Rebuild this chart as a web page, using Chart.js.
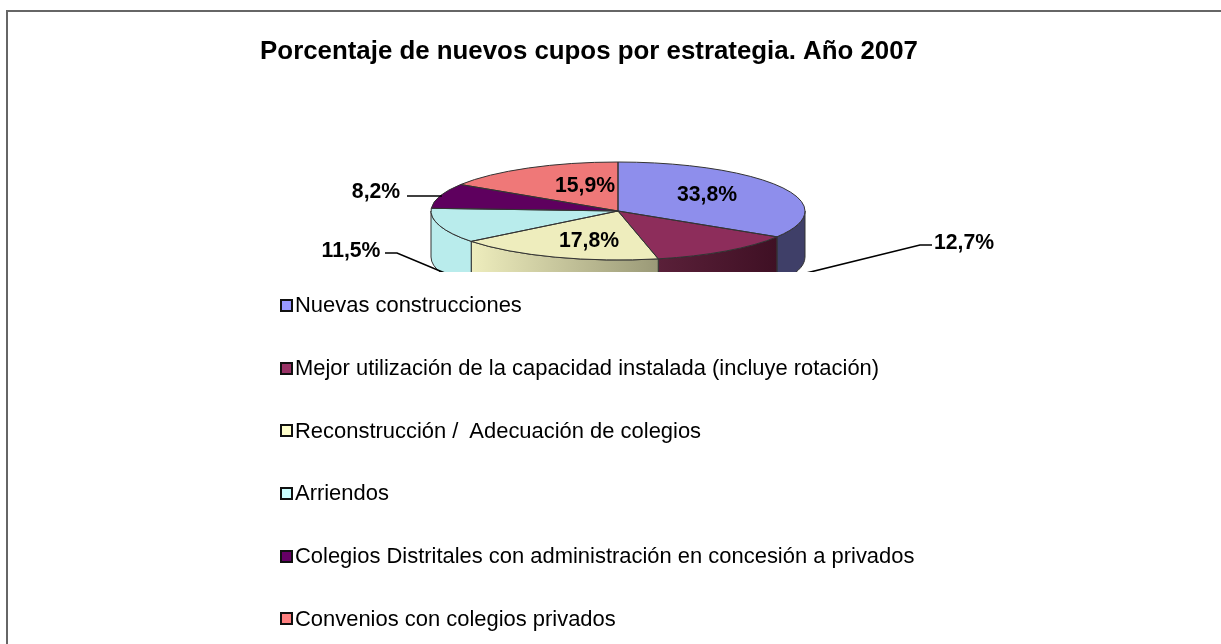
<!DOCTYPE html>
<html lang="es">
<head>
<meta charset="utf-8">
<title>Porcentaje de nuevos cupos por estrategia</title>
<script src="https://cdn.jsdelivr.net/npm/chart.js@4/dist/chart.umd.js"></script>
<style>
    html, body { margin: 0; padding: 0; background: #fff; overflow: hidden; }
    #frame { position: absolute; left: 6px; top: 10px; right: 0; bottom: 0; border-left: 2px solid #666; border-top: 2px solid #666; }
    #chart { position: absolute; left: 0; top: 0; }
    #legend { position: absolute; left: 280px; top: 274px; font: 21.95px "Liberation Sans", Arial, sans-serif; color: #000; }
    .row { height: 62.7px; white-space: pre; display: flex; align-items: center; }
    .swatch { width: 9px; height: 9px; border: 2px solid #111; margin-right: 2px; display: inline-block; }
</style>
</head>
<body>
<div id="frame"></div>
<canvas id="chart" width="1178" height="644" style="width:1178px;height:644px"></canvas>
<div id="legend"></div>
<script>
// Datos
const categories = [
    'Nuevas construcciones',
    'Mejor utilización de la capacidad instalada (incluye rotación)',
    'Reconstrucción /  Adecuación de colegios',
    'Arriendos',
    'Colegios Distritales con administración en concesión a privados',
    'Convenios con colegios privados'
];
const values = [33.8, 12.7, 17.8, 11.5, 8.2, 15.9];
const topColors = ['#8e8eec', '#8d2d5b', '#eeedbd', '#b9ecec', '#5e005e', '#ef7878'];
const legendColors = ['#9999ff', '#993366', '#ffffcc', '#ccffff', '#660066', '#ff8080'];
const wallLeft = ['#3f3f68', '#5a2039', '#eeedbd', '#b9ecec', '#5e005e', '#ef7878'];
const wallRight = ['#3f3f68', '#3f1024', '#9a9977', '#b9ecec', '#5e005e', '#ef7878'];

// Geometría de la "torta" aplastada
const pieCenterX = 618;
const pieCenterY = 211;
const pieRadius = 187;
const squash = 49 / 187;
const pieDepth = 46;
const legendTop = 272;

// Etiquetas y líneas guía, en el orden de values
const labelSpots = [[707, 195], [964, 243], [589, 241], [351, 251], [376, 192], [585, 186]];
const leaders = {
    1: [[932, 245], [920, 245], [790, 277]],
    3: [[385, 253], [397, 253], [452, 276]],
    4: [[407, 196], [442, 196]]
};

const percent = (v) => v.toFixed(1).replace('.', ',') + '%';

// Traza el borde de la elipse entre dos ángulos
const rimPath = (ctx, a1, a2, dy, back) => {
    ctx.ellipse(pieCenterX, pieCenterY + dy, pieRadius, pieRadius * squash, 0, a1, a2, back);
};

const drawWalls = (ctx, arcs) => {
    arcs.forEach((arc, i) => {
        const a1 = Math.max(arc.startAngle, 0);
        const a2 = Math.min(arc.endAngle, Math.PI);
        if (a2 <= a1) return;
        const x1 = pieCenterX + pieRadius * Math.cos(a2);
        const x2 = pieCenterX + pieRadius * Math.cos(a1);
        const fill = ctx.createLinearGradient(x1, 0, x2, 0);
        fill.addColorStop(0, wallLeft[i]);
        fill.addColorStop(1, wallRight[i]);
        ctx.beginPath();
        rimPath(ctx, a1, a2, 0, false);
        rimPath(ctx, a2, a1, pieDepth, true);
        ctx.closePath();
        ctx.fillStyle = fill;
        ctx.fill();
        ctx.lineWidth = 1;
        ctx.strokeStyle = '#333';
        ctx.stroke();
    });
};

const drawRims = (ctx, arcs) => {
    arcs.forEach((arc) => {
        ctx.beginPath();
        ctx.moveTo(pieCenterX, pieCenterY);
        rimPath(ctx, arc.startAngle, arc.endAngle, 0, false);
        ctx.closePath();
        ctx.lineWidth = 1;
        ctx.strokeStyle = '#333';
        ctx.stroke();
    });
};

const flatPie = {
    id: 'flatPie',
    beforeDatasetsDraw(chart) {
        const ctx = chart.ctx;
        const arcs = chart.getDatasetMeta(0).data;
        ctx.save();
        ctx.beginPath();
        ctx.rect(0, 0, chart.width, legendTop);
        ctx.clip();
        drawWalls(ctx, arcs);
        ctx.save();
        ctx.translate(pieCenterX, pieCenterY);
        ctx.scale(1, squash);
        ctx.translate(-arcs[0].x, -arcs[0].y);
    },
    afterDatasetsDraw(chart) {
        const ctx = chart.ctx;
        const arcs = chart.getDatasetMeta(0).data;
        ctx.restore();
        drawRims(ctx, arcs);

        // Líneas guía
        ctx.strokeStyle = '#000';
        ctx.lineWidth = 1.6;
        Object.values(leaders).forEach((pts) => {
            ctx.beginPath();
            pts.forEach(([x, y], k) => (k ? ctx.lineTo(x, y) : ctx.moveTo(x, y)));
            ctx.stroke();
        });
        ctx.restore();

        // Porcentajes
        ctx.save();
        ctx.font = 'bold 21.2px "Liberation Sans", Arial, sans-serif';
        ctx.fillStyle = '#000';
        ctx.textAlign = 'center';
        ctx.textBaseline = 'middle';
        values.forEach((v, i) => ctx.fillText(percent(v), labelSpots[i][0], labelSpots[i][1]));
        ctx.restore();
    }
};

// Leyenda
const legend = document.getElementById('legend');
categories.forEach((name, i) => {
    const row = document.createElement('div');
    row.className = 'row';
    row.innerHTML = `<span class="swatch" style="background:${legendColors[i]}"></span><span>${name}</span>`;
    legend.appendChild(row);
});

new Chart(document.getElementById('chart'), {
    type: 'pie',
    data: {
        labels: categories,
        datasets: [{
            data: values,
            backgroundColor: topColors,
            borderWidth: 0,
            radius: pieRadius,
            clip: false
        }]
    },
    options: {
        responsive: false,
        animation: false,
        events: [],
        plugins: {
            legend: { display: false },
            tooltip: { enabled: false },
            title: {
                display: true,
                text: 'Porcentaje de nuevos cupos por estrategia. Año 2007',
                color: '#000',
                font: { family: '"Liberation Sans", Arial, sans-serif', size: 25.85, weight: 'bold' },
                padding: { top: 36, bottom: 10 }
            }
        }
    },
    plugins: [flatPie]
});
</script>
</body>
</html>
